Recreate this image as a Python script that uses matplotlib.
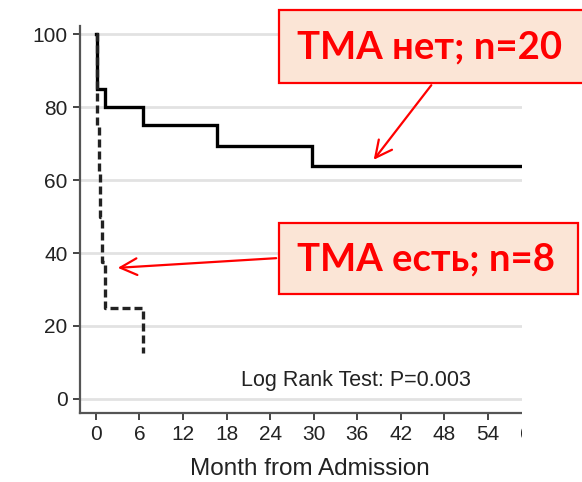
import matplotlib.pyplot as plt
from matplotlib.patches import Rectangle, FancyArrowPatch

# ── data ────────────────────────────────────────────────────────────────────
x_ticks = [0, 6, 12, 18, 24, 30, 36, 42, 48, 54, 60]
y_ticks = [0, 20, 40, 60, 80, 100]

# TMA нет (n=20), solid line: month of step, survival after step (%)
no_tma_t = [0, 0.15, 1.2, 6.5, 16.7, 29.8, 60]
no_tma_s = [100, 85, 80, 75, 69.5, 63.8, 63.8]

# TMA есть (n=8), dashed line
tma_t = [0, 0.1, 0.2, 0.35, 0.6, 0.9, 1.2, 6.5]
tma_s = [100, 87.5, 75, 62.5, 50, 37.5, 25, 12.5]

label_no = "ТМА нет; n=20"
label_yes = "ТМА есть; n=8"
logrank = "Log Rank Test: P=0.003"

W, H = 582, 482


def fx(px):
    return px / W


def fy(py):
    return 1 - py / H


fig = plt.figure(figsize=(W / 100, H / 100), dpi=100)
ax = fig.add_axes([fx(80), fy(413), fx(540) - fx(80), fy(26) - fy(413)])

plt.rcParams["font.family"] = ["Liberation Sans", "DejaVu Sans"]

ax.step(no_tma_t, no_tma_s, where="post", color="black", lw=2.4, zorder=3,
        solid_joinstyle="miter")
ax.step(tma_t, tma_s, where="post", color="#222222", lw=2.4, zorder=3,
        linestyle=(0, (2.4, 1.2)))

ax.set_xlim(-2.2, 61.2)
ax.set_ylim(-3.9, 102.3)
ax.set_xticks(x_ticks)
ax.set_yticks(y_ticks)
for y in y_ticks:
    ax.axhline(y, color="#e2e2e2", lw=2, zorder=1)

for side in ["top", "right"]:
    ax.spines[side].set_visible(False)
for side in ["left", "bottom"]:
    ax.spines[side].set_color("#555555")
    ax.spines[side].set_linewidth(1.6)
ax.tick_params(axis="both", colors="#444444", width=1.4, length=5,
               labelcolor="#222222", labelsize=15, pad=4)
for lab in ax.get_xticklabels() + ax.get_yticklabels():
    lab.set_family("Liberation Sans")
ax.set_xlabel("Month from Admission", fontsize=17.5, color="#222222",
              family="Liberation Sans", labelpad=10)

ax.text(35.9, 4.9, logrank, ha="center", va="center", fontsize=15.5,
        color="#222222", family="Liberation Sans")

# white cover over the cropped right margin of the original picture
fig.patches.append(Rectangle((fx(522), 0), 1 - fx(522), 1,
                             transform=fig.transFigure, facecolor="white",
                             edgecolor="none", zorder=5))

# callout boxes
for (x0, y0, x1, y1), txt in [((279, 10, 584, 83), label_no),
                              ((279, 223, 578, 294), label_yes)]:
    fig.patches.append(Rectangle((fx(x0), fy(y1)), fx(x1) - fx(x0),
                                 fy(y0) - fy(y1), transform=fig.transFigure,
                                 facecolor="#fbe5d6", edgecolor="#ff0000",
                                 lw=1.6, zorder=6))
    fig.text(fx((x0 + x1) / 2 - 2), fy((y0 + y1) / 2 + 1), txt,
             ha="center", va="center", fontsize=27.5, fontweight="bold",
             color="#ff0000", family="Lato", zorder=7)

for (xa, ya), (xb, yb) in [((433, 83), (372, 162)), ((279, 258), (115, 268))]:
    fig.patches.append(FancyArrowPatch((fx(xa), fy(ya)), (fx(xb), fy(yb)),
                                       transform=fig.transFigure,
                                       arrowstyle="->,head_length=12,head_width=6",
                                       color="#ff0000", lw=1.6, zorder=7))

fig.savefig("out.png", dpi=100)
